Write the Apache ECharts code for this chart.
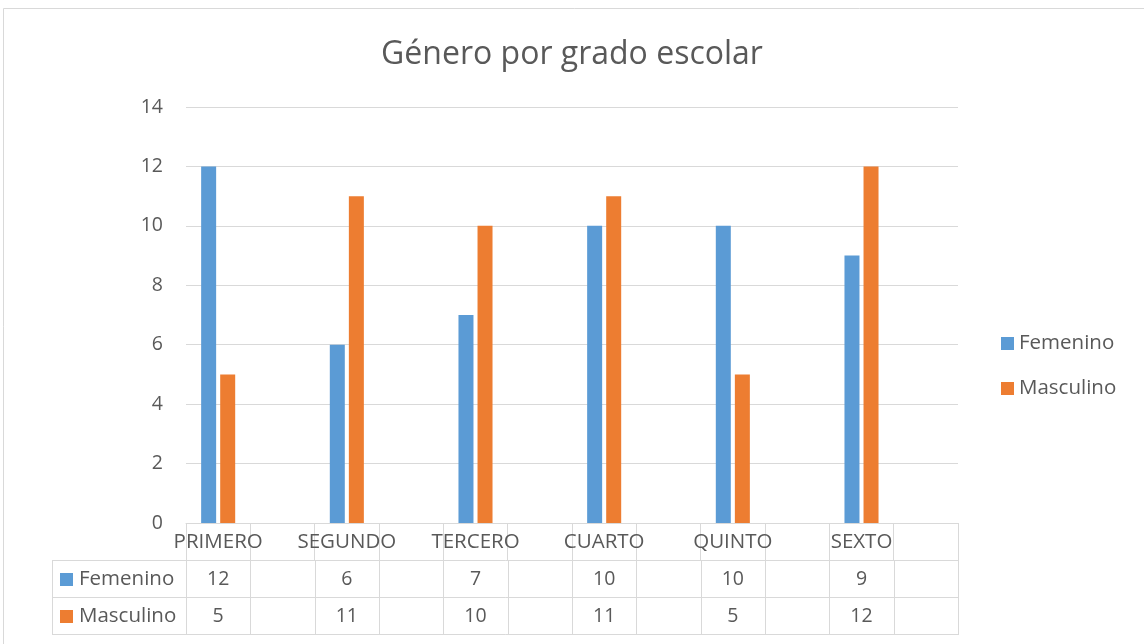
<!DOCTYPE html>
<html><head><meta charset="utf-8">
<script src="https://cdn.jsdelivr.net/npm/echarts@6/dist/echarts.min.js"></script>
<style>html,body{margin:0;padding:0;background:#fff}#c{width:1144px;height:644px}</style>
</head><body><div id="c"></div>
<script>
const chartTitle = 'Género por grado escolar';
const categories = ['PRIMERO', 'SEGUNDO', 'TERCERO', 'CUARTO', 'QUINTO', 'SEXTO'];
const femenino = [12, 6, 7, 10, 10, 9];
const masculino = [5, 11, 10, 11, 5, 12];
const seriesNames = ['Femenino', 'Masculino'];
const seriesColors = ['#5b9bd5', '#ed7d31'];
const yMin = 0, yMax = 14, yStep = 2;

// Excel source has an empty column after each grade
const slots = [];
categories.forEach(c => { slots.push(c); slots.push(''); });
const toSlots = arr => { const out = []; arr.forEach(v => { out.push(v); out.push('-'); }); return out; };
const seriesValues = [femenino, masculino];

const FONT = '"Open Sans", "Liberation Sans", sans-serif';
const TXT = '#595959';
const LINE = '#d9d9d9';
const FS = 20.5;   // word labels
const FN = 19.5;   // numbers

const chart = echarts.init(document.getElementById('c'), null, { renderer: 'canvas' });
chart.setOption({
  animation: false,
  backgroundColor: '#ffffff',
  title: { text: chartTitle, left: 'center', top: 34,
    textStyle: { fontFamily: FONT, fontSize: 32, fontWeight: 'normal', color: TXT } },
  legend: { orient: 'vertical', left: 996, top: 328, itemWidth: 13, itemHeight: 13, itemGap: 24,
    icon: 'rect', data: seriesNames,
    textStyle: { fontFamily: FONT, fontSize: FS, color: TXT } },
  grid: { left: 186, right: 186, top: 107, bottom: 121, containLabel: false },
  xAxis: { type: 'category', data: slots, boundaryGap: true,
    axisLine: { lineStyle: { color: LINE, width: 1 } },
    axisTick: { show: true, interval: 0, length: 37, lineStyle: { color: LINE } },
    axisLabel: { interval: 0, margin: 9, fontFamily: FONT, fontSize: FS, color: TXT } },
  yAxis: { type: 'value', min: yMin, max: yMax, interval: yStep,
    axisLine: { show: false }, axisTick: { show: false },
    splitLine: { lineStyle: { color: LINE, width: 1 } },
    axisLabel: { margin: 23, fontFamily: FONT, fontSize: FN, color: TXT } },
  series: seriesNames.map((n, i) => ({
    name: n, type: 'bar', data: toSlots(seriesValues[i]), barWidth: 15, barGap: '27%',
    itemStyle: { color: seriesColors[i] }
  }))
});

// Data table below the axis, aligned with the category axis
const centers = slots.map((_, i) => chart.convertToPixel({ xAxisIndex: 0 }, i));
const band = centers[1] - centers[0];
const y0 = Math.round(chart.convertToPixel({ yAxisIndex: 0 }, 0));
const rowH = 37;
const tableLeft = 52;
const xLeft = centers[0] - band / 2;
const xRight = centers[centers.length - 1] + band / 2;
const g = [];
const line = (x1, y1, x2, y2) => g.push({ type: 'line', silent: true,
  shape: { x1, y1, x2, y2 }, style: { stroke: LINE, lineWidth: 1 } });
for (let r = 1; r <= 3; r++) line(tableLeft, y0 + r * rowH + 0.5, Math.round(xRight) + 0.5, y0 + r * rowH + 0.5);
line(tableLeft + 0.5, y0 + rowH, tableLeft + 0.5, y0 + 3 * rowH + 1);
for (let k = 0; k <= slots.length; k++) {
  const x = Math.round(xLeft + k * band) + 0.5;
  line(x, y0 + rowH, x, y0 + 3 * rowH + 1);
}
seriesNames.forEach((n, r) => {
  const cy = y0 + (r + 1) * rowH + rowH / 2 + 0.5;
  g.push({ type: 'rect', silent: true, shape: { x: 60, y: Math.round(cy - 6.5), width: 13, height: 13 },
    style: { fill: seriesColors[r] } });
  g.push({ type: 'text', silent: true, x: 79, y: cy,
    style: { text: n, fontFamily: FONT, fontSize: FS, fill: TXT, verticalAlign: 'middle', align: 'left' } });
  seriesValues[r].forEach((v, c) => {
    g.push({ type: 'text', silent: true, x: centers[2 * c], y: cy,
      style: { text: String(v), fontFamily: FONT, fontSize: FN, fill: TXT, verticalAlign: 'middle', align: 'center' } });
  });
});
// chart area border
g.push({ type: 'rect', silent: true, shape: { x: 3.5, y: 8.5, width: 1150, height: 650 },
  style: { fill: 'none', stroke: LINE, lineWidth: 1 } });
chart.setOption({ graphic: { elements: g } });
</script>
</body></html>
